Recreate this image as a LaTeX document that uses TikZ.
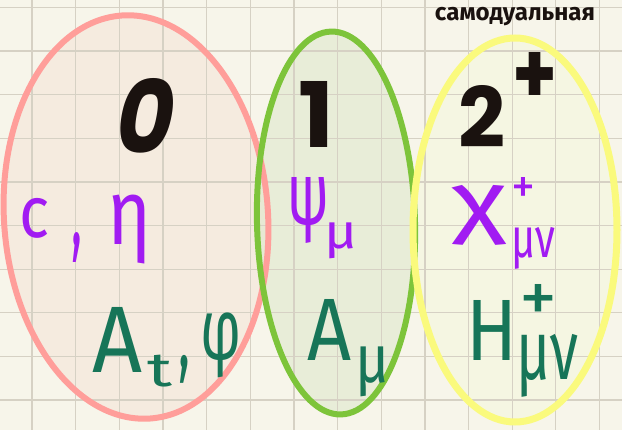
\documentclass[tikz,border=0pt]{standalone}
\usepackage{fontspec}
\usepackage{graphicx}
\usetikzlibrary{shapes.geometric}
\newfontfamily\handfont{Fira Sans}
\newfontfamily\digitfont{Poppins}
\newfontfamily\slantdigitfont{Poppins}[FakeSlant=0.2]
\newfontfamily\labelfont{Fira Sans}
\definecolor{paper}{HTML}{F7F5EA}
\definecolor{gridc}{HTML}{D6D1C4}
\definecolor{pinkline}{HTML}{FF9E9A}
\definecolor{pinkfill}{HTML}{F4E5D8}
\definecolor{greenline}{HTML}{7DC43A}
\definecolor{greenfill}{HTML}{DEE9CC}
\definecolor{yellowline}{HTML}{FAFA7D}
\definecolor{yellowfill}{HTML}{F5F7DD}
\definecolor{fpurple}{HTML}{A11BF2}
\definecolor{fgreen}{HTML}{177558}
\definecolor{ink}{HTML}{1A120F}
\newcommand\fitglyph[3]{\resizebox*{#1}{#2}{#3}}
\tikzset{
  ellbase/.style={ellipse, inner sep=0pt},
  ellfill/.style={ellbase, fill opacity=0.6},
  ellline/.style={ellbase, line width=6pt},
  pinkshape/.style={minimum width=264pt, minimum height=404pt, rotate=4},
  greenshape/.style={minimum width=158pt, minimum height=383pt, rotate=1.5},
  yellowshape/.style={minimum width=204pt, minimum height=384pt},
  gridline/.style={draw=gridc, line width=1.3pt},
  glyph/.style={inner sep=0pt, outer sep=0pt, anchor=center},
  purp/.style={glyph, text=fpurple, font=\handfont},
  grn/.style={glyph, text=fgreen, font=\handfont},
  big/.style={glyph, text=ink, font=\digitfont\bfseries},
}
\begin{document}
\begin{tikzpicture}[x=1pt, y=-1pt]
\useasboundingbox (0,0) rectangle (622,430);
\fill[paper] (0,0) rectangle (622,430);
% ellipse fills
\node[ellfill, pinkshape, fill=pinkfill] (pinkarea) at (136,217) {};
\node[ellfill, greenshape, fill=greenfill] (greenarea) at (336,223) {};
\node[ellfill, yellowshape, fill=yellowfill] (yellowarea) at (515,230) {};
% grid
\foreach \k in {-1,...,13} {
  \draw[gridline] ({32+43.65*\k},0) -- ({32+43.65*\k},430);
}
\foreach \k in {0,...,9} {
  \draw[gridline] (0,{7.3+43.65*\k}) -- (622,{7.3+43.65*\k});
}
% ellipse outlines
\node[ellline, pinkshape, draw=pinkline] (pinkell) at (136,217) {};
\node[ellline, greenshape, draw=greenline] (greenell) at (336,223) {};
\node[ellline, yellowshape, draw=yellowline, line width=7pt] (yellowell) at (515,230) {};
% big numbers
\node[big] (zero) at (141,116) {\slantdigitfont\bfseries\fitglyph{58pt}{75pt}{0}};
\node[big] (one) at (317,114) {\fitglyph{36pt}{66pt}{1}};
\node[big] (two) at (482,116) {\fitglyph{47pt}{62pt}{2}};
\node[big] (twoplus) at (535,78) {\fitglyph{45pt}{51pt}{+}};
% purple row
\node[purp] (c) at (35,218) {\fitglyph{30pt}{40pt}{c}};
\node[purp] (comma1) at (77,247) {\fitglyph{11pt}{30pt}{,}};
\node[purp] (eta) at (130,230) {\fitglyph{44pt}{69pt}{η}};
\node[purp] (psi) at (309,210) {\fitglyph{42pt}{66pt}{ψ}};
\node[purp] (psisub) at (341,241) {\fitglyph{33pt}{36pt}{μ}};
\node[purp] (chi) at (480,215) {\fitglyph{55pt}{60pt}{χ}};
\node[purp] (chisup) at (524,191) {\fitglyph{24pt}{26pt}{+}};
\node[purp] (chisub) at (533,248) {\fitglyph{44pt}{42pt}{μν}};
% green row
\node[grn] (At) at (118,340) {\fitglyph{50pt}{65pt}{A}};
\node[grn] (tsub) at (160,371) {\fitglyph{25pt}{32pt}{t}};
\node[grn] (comma2) at (184,369) {\fitglyph{12pt}{28pt}{,}};
\node[grn] (phi) at (221,345) {\fitglyph{41pt}{65pt}{φ}};
\node[grn] (Amu) at (330,330) {\fitglyph{44pt}{61pt}{A}};
\node[grn] (Amusub) at (373,372) {\fitglyph{34pt}{50pt}{μ}};
\node[grn] (H) at (492,330) {\fitglyph{51pt}{60pt}{H}};
\node[grn] (Hsup) at (539,303) {\fitglyph{38pt}{38pt}{+}};
\node[grn] (Hsub) at (547,366) {\fitglyph{62pt}{63pt}{μν}};
% label
\node[glyph, text=ink, font=\labelfont\bfseries] (selfdual) at (515,17) {\resizebox{160pt}{!}{самодуальная}};
\end{tikzpicture}
\end{document}
